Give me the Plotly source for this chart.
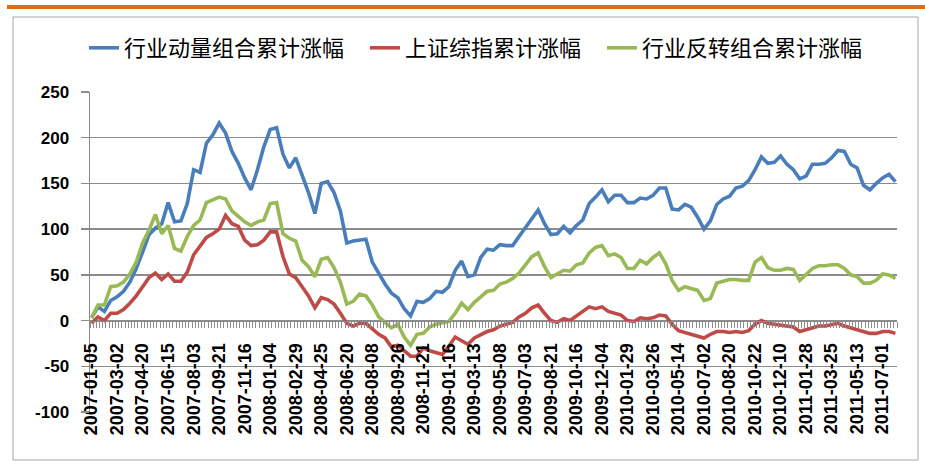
import plotly.graph_objects as go

# ---- data (one value every 2 weekly categories) ----
tick_labels = ["2007-01-05", "2007-03-02", "2007-04-20", "2007-06-15", "2007-08-03", "2007-09-21",
               "2007-11-16", "2008-01-04", "2008-02-29", "2008-04-25", "2008-06-20", "2008-08-08",
               "2008-09-26", "2008-11-21", "2009-01-16", "2009-03-13", "2009-05-08", "2009-07-03",
               "2009-08-21", "2009-10-16", "2009-12-04", "2010-01-29", "2010-03-26", "2010-05-14",
               "2010-07-02", "2010-08-20", "2010-10-22", "2010-12-10", "2011-01-28", "2011-03-25",
               "2011-05-13", "2011-07-01"]

y_ticks = [-100, -50, 0, 50, 100, 150, 200, 250]
y_tick_labels = ["-100", "-50", "0", "50", "100", "150", "200", "250"]

momentum = [3, 15, 10, 22, 26, 32, 42, 57, 75, 94, 101, 106, 129, 108, 109, 128, 165, 162, 194, 203,
            216, 205, 185, 172, 156, 143,
            165, 190, 209, 211, 182, 167, 178, 158, 140, 117, 150, 152, 140, 120, 85, 87, 88, 89, 64,
            51, 40, 30, 25, 13, 5,
            21, 20, 24, 32, 31, 37, 55, 65, 48, 50, 69, 78, 77, 83, 82, 82, 92, 102, 111, 121, 106,
            94, 95, 103, 96,
            104, 110, 128, 135, 143, 130, 137, 137, 129, 129, 134, 133, 137, 145, 145, 122, 121, 127,
            124, 113, 100, 109, 127, 133, 136,
            145, 147, 153, 165, 179, 172, 173, 180, 171, 165, 155, 158, 171, 171, 172, 178, 186, 185,
            171, 167, 148, 143, 150, 156, 160, 152]

index_sh = [-3, 4, 0, 8, 8, 12, 19, 27, 37, 47, 52, 45, 51, 43, 43, 53, 72, 82, 91, 95, 100, 115,
            106, 103, 88, 82,
            83, 88, 97, 97, 70, 51, 47, 37, 27, 14, 25, 23, 18, 8, -3, -6, -3, -3, -9, -15, -19, -29,
            -27, -33, -39,
            -39, -30, -33, -35, -37, -28, -18, -22, -26, -19, -15, -12, -10, -6, -4, -2, 4, 8, 14, 17,
            8, 0, -2, 2, 0,
            5, 10, 15, 13, 15, 10, 8, 6, 0, -1, 3, 2, 3, 6, 5, -4, -11, -13, -15, -16, -19, -15, -12,
            -12, -13,
            -12, -13, -11, -4, 0, -3, -4, -5, -6, -7, -12, -10, -7, -6, -6, -4, -3, -6, -8, -10, -12,
            -14, -14, -12, -12, -14]

reversal = [3, 17, 17, 37, 38, 42, 51, 64, 85, 99, 116, 95, 104, 79, 76, 92, 104, 110, 129, 132, 135,
            133, 120, 114, 108, 104,
            108, 110, 128, 129, 95, 90, 87, 66, 59, 48, 67, 69, 58, 42, 18, 21, 29, 27, 17, 4, -2, -8,
            -4, -18, -27,
            -15, -14, -7, -4, -3, -1, 8, 19, 12, 20, 26, 32, 33, 40, 42, 46, 52, 61, 70, 74, 59, 47,
            51, 55, 54,
            61, 63, 74, 80, 82, 71, 73, 69, 57, 57, 66, 62, 69, 74, 62, 44, 33, 37, 35, 33, 22, 24, 41,
            43, 45,
            45, 44, 44, 64, 69, 58, 55, 55, 57, 56, 44, 50, 57, 60, 60, 61, 61, 57, 50, 48, 41, 41, 44,
            51, 50, 46]

series_names = ["行业动量组合累计涨幅", "上证综指累计涨幅", "行业反转组合累计涨幅"]

# ---- figure ----
STEP = 2          # one stored value every 2 weekly categories
LABEL_EVERY = 8   # a tick label every 8 categories
n_cat = (len(momentum) - 1) * STEP + 1
x_pos = list(range(0, n_cat, STEP))

colors = ["#4A7EBB", "#BE4B48", "#98B954"]
legend_w = [236, 192, 220]

fig = go.Figure()
for name, vals, col, lw in zip(series_names, [momentum, index_sh, reversal], colors, legend_w):
    fig.add_trace(go.Scatter(x=x_pos, y=vals, mode="lines", name=name,
                             line=dict(color=col, width=3.6), legendwidth=lw,
                             hoverinfo="skip"))

W, H = 925, 461
L, R, T, B = 90, 28, 92, 49
pw, ph = W - L - R, H - T - B


def px_x(x):
    return (x - L) / pw


def px_y(y):
    return (H - B - y) / ph


y_min, y_max = -100, 250
zero_frac = (0 - y_min) / (y_max - y_min)

grid_col = "#8C8C8C"
fig.update_layout(
    width=W, height=H, autosize=False,
    paper_bgcolor="white", plot_bgcolor="white",
    margin=dict(l=L, r=R, t=T, b=B, autoexpand=False),
    showlegend=True, hovermode=False,
    legend=dict(orientation="h", x=px_x(84), xanchor="left", y=px_y(48), yanchor="middle",
                font=dict(family="Noto Sans CJK SC", size=22, color="#000000"),
                bgcolor="rgba(0,0,0,0)", traceorder="normal", itemwidth=30),
    xaxis=dict(
        range=[-0.5, n_cat - 0.5], anchor="free", position=zero_frac,
        tickmode="array", tickvals=[i * LABEL_EVERY for i in range(len(tick_labels))],
        ticktext=tick_labels, tickangle=-90, ticks="",
        tickfont=dict(family="Liberation Sans", size=18, color="#000000", weight="bold"),
        ticklabelstandoff=14,
        showline=True, linecolor=grid_col, linewidth=1.5,
        showgrid=False, zeroline=False, automargin=False,
        minor=dict(tickmode="linear", tick0=-0.5, dtick=1, ticks="outside", ticklen=6,
                   tickcolor=grid_col, tickwidth=1, showgrid=False),
    ),
    yaxis=dict(
        range=[y_min, y_max], tickmode="array", tickvals=y_ticks, ticktext=y_tick_labels,
        ticks="outside", ticklen=8, tickcolor=grid_col, tickwidth=1.5,
        tickfont=dict(family="Liberation Sans", size=17, color="#000000", weight="bold"),
        ticklabelstandoff=8, automargin=False,
        showgrid=True, gridcolor=grid_col, gridwidth=1.5,
        showline=True, linecolor=grid_col, linewidth=1.5, zeroline=False,
    ),
    shapes=[
        dict(type="rect", xref="paper", yref="paper", x0=px_x(13), x1=px_x(918),
             y0=px_y(460), y1=px_y(17), line=dict(color="#A6A6A6", width=1), layer="below"),
        dict(type="line", xref="paper", yref="paper", x0=px_x(7), x1=px_x(925),
             y0=px_y(7), y1=px_y(7), line=dict(color="#E26B0A", width=4)),
    ],
)

fig.write_html("out.html", config={"displayModeBar": False, "staticPlot": True},
               post_script="document.body.style.margin='0';")
